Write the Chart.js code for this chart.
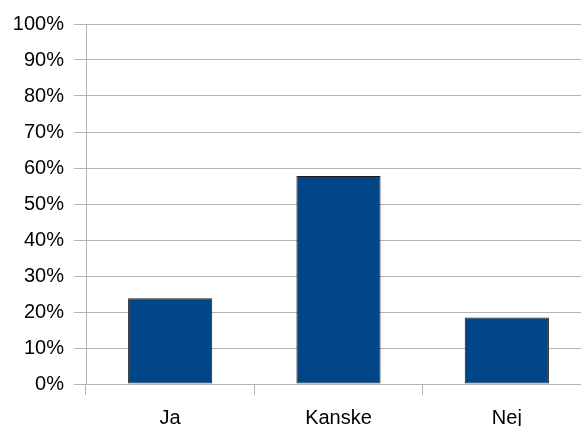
<!DOCTYPE html>
<html>
<head>
<meta charset="utf-8">
<script src="https://cdn.jsdelivr.net/npm/chart.js@4"></script>
<style>
html,body{margin:0;padding:0;background:#fff;overflow:hidden;width:581px;height:426px;}
#wrap{position:absolute;left:0;top:0;width:591px;height:426px;}
</style>
</head>
<body>
<div id="wrap"><canvas id="c"></canvas></div>
<script>
const categories = ["Ja", "Kanske", "Nej"];
const values = [23.8, 57.8, 18.5];
const yTicks = [0, 10, 20, 30, 40, 50, 60, 70, 80, 90, 100];

const gridColor = '#b3b3b3';
new Chart(document.getElementById('c'), {
  type: 'bar',
  data: {
    labels: categories,
    datasets: [{
      data: values,
      backgroundColor: '#004586',
      borderColor: '#1a1a1a',
      borderWidth: 1,
      borderSkipped: false,
      barPercentage: 0.5,
      categoryPercentage: 1.0
    }]
  },
  options: {
    responsive: true,
    maintainAspectRatio: false,
    animation: false,
    layout: { padding: { top: 24, left: 0, right: 0, bottom: 0 } },
    plugins: { legend: { display: false }, tooltip: { enabled: false } },
    scales: {
      x: {
        offset: true,
        grid: { offset: true, drawOnChartArea: false, color: gridColor, tickLength: 11 },
        border: { color: gridColor },
        ticks: { color: '#000', font: { family: 'Liberation Sans', size: 20 }, padding: 11 },
        afterFit: s => { s.height = 42; }
      },
      y: {
        min: 0, max: 100,
        afterBuildTicks: s => { s.ticks = yTicks.map(v => ({ value: v })); },
        grid: { color: gridColor, tickLength: 12 },
        border: { color: gridColor },
        ticks: { color: '#000', font: { family: 'Liberation Sans', size: 20 }, padding: 10,
                 callback: v => v + '%' },
        afterFit: s => { s.width = 86; }
      }
    }
  }
});
</script>
</body>
</html>
